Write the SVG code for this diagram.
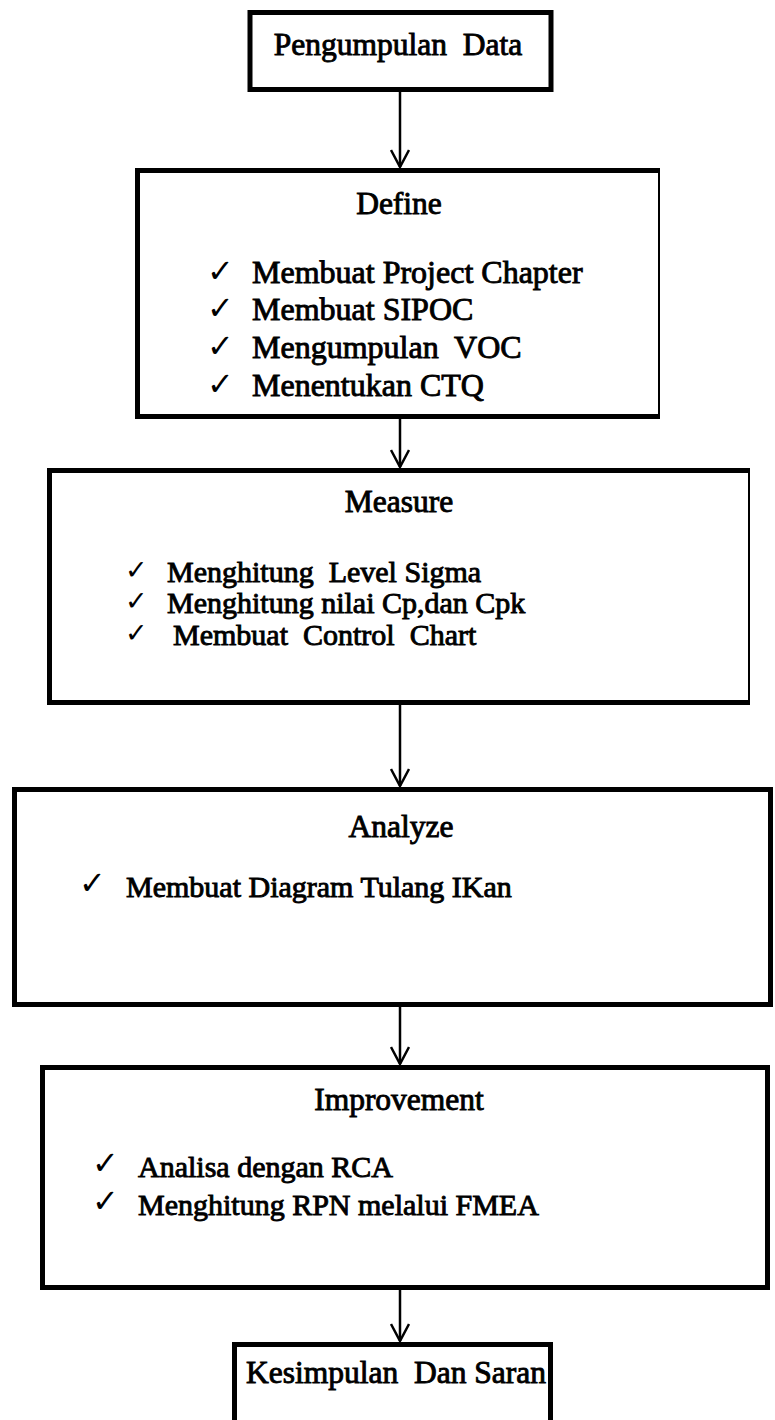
<svg xmlns="http://www.w3.org/2000/svg" width="775" height="1420" viewBox="0 0 775 1420">
  <style>
    .box { fill: #ffffff; stroke: #000000; stroke-width: 5; }
    .edge { fill: none; stroke: #000000; stroke-width: 5; }
    .thin { fill: none; stroke: #000000; stroke-width: 2; }
    .link { fill: none; stroke: #000000; stroke-width: 2.5; marker-end: url(#arrow); }
    .t { font-family: 'Liberation Serif', 'DejaVu Serif', serif; font-size: 30px; fill: #000000; stroke: #000000; stroke-width: 0.9; white-space: pre; }
    .title { text-anchor: middle; font-size: 31.5px; }
    .big { font-size: 32px; }
    .chk { font-family: 'DejaVu Sans', sans-serif; font-size: 32px; fill: #000000; }
    .chk-s { font-size: 27px; }
  </style>
  <defs>
    <marker id="arrow" viewBox="0 0 20 20" refX="19" refY="10" markerWidth="20" markerHeight="20" markerUnits="userSpaceOnUse" orient="auto">
      <path d="M2,1 L19,10 L2,19" fill="none" stroke="#000000" stroke-width="2.5"/>
    </marker>
  </defs>
  <rect x="0" y="0" width="775" height="1420" fill="#ffffff"/>

  <!-- connectors -->
  <g id="connectors">
    <line class="link" x1="400" y1="92" x2="400" y2="167"/>
    <line class="link" x1="400" y1="419" x2="400" y2="467"/>
    <line class="link" x1="400" y1="705" x2="400" y2="786"/>
    <line class="link" x1="400" y1="1007" x2="400" y2="1064"/>
    <line class="link" x1="400" y1="1290" x2="400" y2="1341"/>
  </g>

  <!-- start: data collection -->
  <g id="node-data">
    <rect class="box" x="250" y="12.5" width="301" height="77"/>
    <text class="t title" x="398" y="55">Pengumpulan  Data</text>
  </g>

  <!-- Define phase -->
  <g id="node-define">
    <rect x="137" y="170" width="522" height="247" fill="#ffffff"/>
    <path class="edge" d="M660,170.5 H137.5 V416.5 H660"/>
    <line class="thin" x1="659" y1="168" x2="659" y2="419"/>
    <text class="t title" x="399" y="214">Define</text>
    <text class="chk" x="207" y="282">✓</text>
    <text class="t big" x="252" y="283">Membuat Project Chapter</text>
    <text class="chk" x="207" y="319">✓</text>
    <text class="t big" x="252" y="320">Membuat SIPOC</text>
    <text class="chk" x="207" y="357">✓</text>
    <text class="t big" x="252" y="358">Mengumpulan  VOC</text>
    <text class="chk" x="207" y="395">✓</text>
    <text class="t big" x="252" y="396">Menentukan CTQ</text>
  </g>

  <!-- Measure phase -->
  <g id="node-measure">
    <rect x="49" y="470" width="700" height="233" fill="#ffffff"/>
    <path class="edge" d="M750,470.5 H49.5 V702.5 H750"/>
    <line class="thin" x1="749" y1="468" x2="749" y2="705"/>
    <text class="t title" x="399" y="512" font-size="33px">Measure</text>
    <text class="chk chk-s" x="125" y="579">✓</text>
    <text class="t" x="167" y="582">Menghitung  Level Sigma</text>
    <text class="chk chk-s" x="125" y="610">✓</text>
    <text class="t" x="167" y="613">Menghitung nilai Cp,dan Cpk</text>
    <text class="chk chk-s" x="125" y="642">✓</text>
    <text class="t" x="173" y="645">Membuat  Control  Chart</text>
  </g>

  <!-- Analyze phase -->
  <g id="node-analyze">
    <rect class="box" x="14.5" y="789.5" width="756" height="215"/>
    <text class="t title" x="401" y="837">Analyze</text>
    <text class="chk" x="79" y="894">✓</text>
    <text class="t" x="126" y="897">Membuat Diagram Tulang IKan</text>
  </g>

  <!-- Improvement phase -->
  <g id="node-improve">
    <rect class="box" x="42.5" y="1067.5" width="725" height="220"/>
    <text class="t title" x="399" y="1110">Improvement</text>
    <text class="chk" x="92" y="1174">✓</text>
    <text class="t" x="138" y="1177">Analisa dengan RCA</text>
    <text class="chk" x="92" y="1212">✓</text>
    <text class="t" x="138" y="1215">Menghitung RPN melalui FMEA</text>
  </g>

  <!-- end: conclusion -->
  <g id="node-conclusion">
    <path class="edge" d="M234.5,1425 V1344.5 H550.5 V1425"/>
    <text class="t title" x="396" y="1383" font-size="30.5px">Kesimpulan  Dan Saran</text>
  </g>
</svg>
